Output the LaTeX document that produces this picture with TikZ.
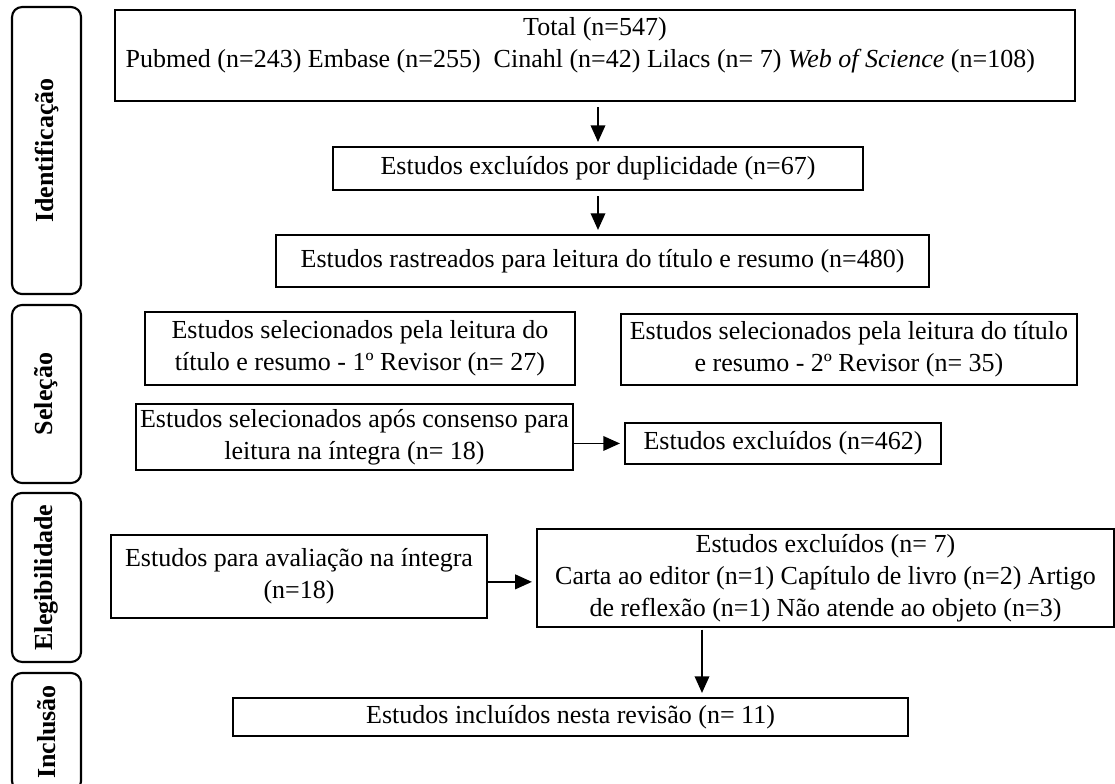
\documentclass[tikz,border=0pt]{standalone}
\usepackage{fontspec}
\setmainfont{Liberation Serif}
\usetikzlibrary{arrows.meta}
\tikzstyle{box} = [
  rectangle,
  align=center,
  inner sep=0pt,
  draw=black,
  line width=1.6pt,
  font=\fontsize{19.5}{24}\selectfont
]
\tikzstyle{stage} = [
  rectangle,
  rounded corners=7.5pt,
  rotate=90,
  minimum height=51.75pt,
  inner sep=0pt,
  draw=black,
  line width=1.6pt,
  font=\fontsize{19.5}{24}\selectfont\bfseries
]
\tikzstyle{arrow} = [line width=1.1pt, -{Triangle[length=12.5pt,width=11pt]}, shorten >=3pt]

\begin{document}
\begin{tikzpicture}[x=1pt, y=-1pt]
    \useasboundingbox (0,0) rectangle (836.25,588);
    % fases
    \node (identificacao) [stage, minimum width=215.25pt] at (34.9,112.9) {Identificação};
    \node (selecao) [stage, minimum width=133.5pt] at (34.9,295.5) {Seleção};
    \node (elegibilidade) [stage, minimum width=126.75pt] at (34.9,433.1) {Elegibilidade};
    \node (inclusao) [stage, minimum width=88.5pt] at (34.9,549) {Inclusão};

    % caixas
    \node (total) [box, minimum width=720pt, minimum height=68.25pt] at (446.25,41.6)
      {Total (n=547)\\Pubmed (n=243) Embase (n=255)\ \ Cinahl (n=42) Lilacs (n= 7) \textit{Web of Science} (n=108)\hspace{22pt}\rule[-19pt]{0pt}{0pt}};
    \node (duplicados) [box, minimum width=397.5pt, minimum height=32.25pt] at (448.5,126.4)
      {Estudos excluídos por duplicidade (n=67)};
    \node (rastreados) [box, minimum width=489.75pt, minimum height=39pt] at (451.9,195.75)
      {Estudos rastreados para leitura do título e resumo (n=480)};
    \node (revisor1) [box, minimum width=322.5pt, minimum height=54.75pt] at (270,261.4)
      {Estudos selecionados pela leitura do\\título e resumo - 1º Revisor (n= 27)};
    \node (revisor2) [box, minimum width=342pt, minimum height=53.25pt] at (636.75,262.1)
      {Estudos selecionados pela leitura do título\\e resumo - 2º Revisor (n= 35)};
    \node (consenso) [box, minimum width=327.75pt, minimum height=49.5pt] at (265.9,327.75)
      {Estudos selecionados após consenso para\\leitura na íntegra (n= 18)};
    \node (excluidos1) [box, minimum width=237pt, minimum height=30.75pt] at (587.25,332.6)
      {Estudos excluídos (n=462)};
    \node (avaliacao) [box, minimum width=282pt, minimum height=62.25pt] at (224.25,432.4)
      {Estudos para avaliação na íntegra\\(n=18)};
    \node (excluidos2) [box, minimum width=432.75pt, minimum height=73.5pt] at (619.1,433.5)
      {Estudos excluídos (n= 7)\\Carta ao editor (n=1) Capítulo de livro (n=2) Artigo\\de reflexão (n=1) Não atende ao objeto (n=3)};
    \node (incluidos) [box, minimum width=506.25pt, minimum height=28.5pt] at (427.9,537.75)
      {Estudos incluídos nesta revisão (n= 11)};
    \coordinate (saida) at (526.5,470.25);

    \draw [arrow, shorten <=4pt] (total.south -| duplicados.north) -- (duplicados.north);
    \draw [arrow, shorten <=4pt] (duplicados.south) -- (duplicados.south |- rastreados.north);
    \draw [arrow] (consenso.east |- excluidos1.west) -- (excluidos1.west);
    \draw [arrow] ([yshift=-4pt]avaliacao.east) -- ([yshift=-4pt]avaliacao.east -| excluidos2.west);
    \draw [arrow, shorten <=2pt] (saida) -- (saida |- incluidos.north);
\end{tikzpicture}
\end{document}
